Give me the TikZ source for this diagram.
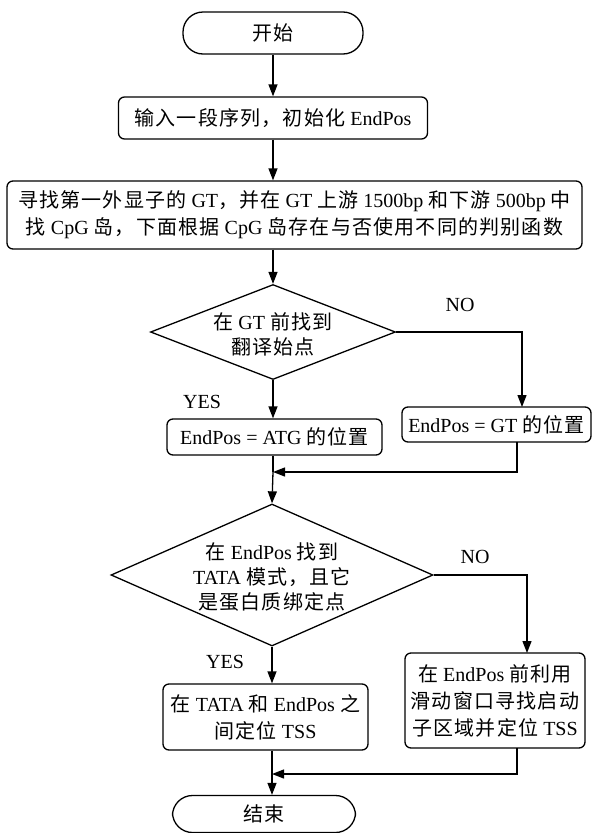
\documentclass[tikz,border=0pt]{standalone}
\usepackage{fontspec}
\setmainfont{Liberation Serif}
\newfontfamily\cjk[LetterSpace=6]{Noto Sans CJK SC}
\newcommand\zh[1]{{\cjk #1}}
\usetikzlibrary{shapes.geometric,arrows.meta}
\tikzset{
  base/.style={draw, line width=1.3pt, align=center, inner sep=0pt, font=\fontsize{20}{27}\selectfont},
  box/.style={base, rounded corners=6pt},
  term/.style={base, rounded corners=20pt},
  dia/.style={draw, diamond, inner sep=0pt, line width=1.3pt},
  dtext/.style={align=center, inner sep=0pt, font=\fontsize{20}{25}\selectfont},
  lbl/.style={inner sep=0pt, font=\fontsize{20}{24}\selectfont},
  arr/.style={-{Triangle[length=12pt,width=9pt]}, line width=1.3pt},
  plain/.style={line width=1.3pt}
}
\begin{document}
\begin{tikzpicture}[x=1pt,y=-1pt]
\useasboundingbox (0,0) rectangle (593,833);
\fill[white] (0,0) rectangle (593,833);
% nodes
\node[term, minimum width=180pt, minimum height=42pt] (start) at (273,33) {\zh{开始}};
\node[box, minimum width=309pt, minimum height=42pt] (init) at (273,118) {\zh{输入一段序列，初始化} EndPos};
\node[box, minimum width=575pt, minimum height=68pt] (find) at (294.5,215)
  {\zh{寻找第一外显子的} GT\zh{，并在} GT \zh{上游} 1500bp \zh{和下游} 500bp \zh{中}\\
   \zh{找} CpG \zh{岛，下面根据} CpG \zh{岛存在与否使用不同的判别函数}};
\node[dia, minimum width=245pt, minimum height=95pt] (d1) at (273,332) {};
\node[dtext] (d1t) at (273,334) {\zh{在} GT \zh{前找到}\\\zh{翻译始点}};
\node[lbl] (no1) at (460,305) {NO};
\node[lbl] (yes1) at (202,402) {YES};
\node[box, minimum width=215pt, minimum height=36pt] (b4) at (274.5,437) {EndPos = ATG \zh{的位置}};
\node[box, minimum width=189pt, minimum height=35pt] (b5) at (496.5,424.5) {EndPos = GT \zh{的位置}};
\node[dia, minimum width=322pt, minimum height=142pt] (d2) at (272,575) {};
\node[dtext] (d2t) at (272,577) {\zh{在} EndPos \zh{找到}\\TATA \zh{模式，且它}\\\zh{是蛋白质绑定点}};
\node[lbl] (no2) at (475,557) {NO};
\node[lbl] (yes2) at (225,662) {YES};
\node[box, minimum width=205pt, minimum height=66pt] (b6) at (265.5,717) {\zh{在} TATA \zh{和} EndPos \zh{之}\\\zh{间定位} TSS};
\node[box, minimum width=180pt, minimum height=95pt] (b7) at (495,700.5) {\zh{在} EndPos \zh{前利用}\\\zh{滑动窗口寻找启动}\\\zh{子区域并定位} TSS};
\node[term, minimum width=183pt, minimum height=37pt] (end) at (264,814) {\zh{结束}};
% helper coordinates
\coordinate (c1) at (522,407);
\coordinate (c2) at (517,442);
\coordinate (m1) at (273,472);
\coordinate (c3) at (527,653);
\coordinate (c4) at (517,748);
\coordinate (m2) at (272,774);
% connectors
\draw[arr] (start.south) -- (start.south |- init.north);
\draw[arr] (init.south) -- (init.south |- find.north);
\draw[arr] (d1.north |- find.south) -- (d1.north);
\draw[arr] (d1.south) -- (d1.south |- b4.north);
\draw[arr] (d1.east) -| (c1);
\draw[plain] (b4.south -| m1) -- (m1);
\draw[arr] (m1) -- (d2.north);
\draw[arr] (c2) |- (m1);
\draw[arr] (d2.east) -| (c3);
\draw[arr] (d2.south) -- (d2.south |- b6.north);
\draw[plain] (b6.south -| m2) -- (m2);
\draw[arr] (m2) -- (m2 |- end.north);
\draw[arr] (c4) |- (m2);
\end{tikzpicture}
\end{document}
